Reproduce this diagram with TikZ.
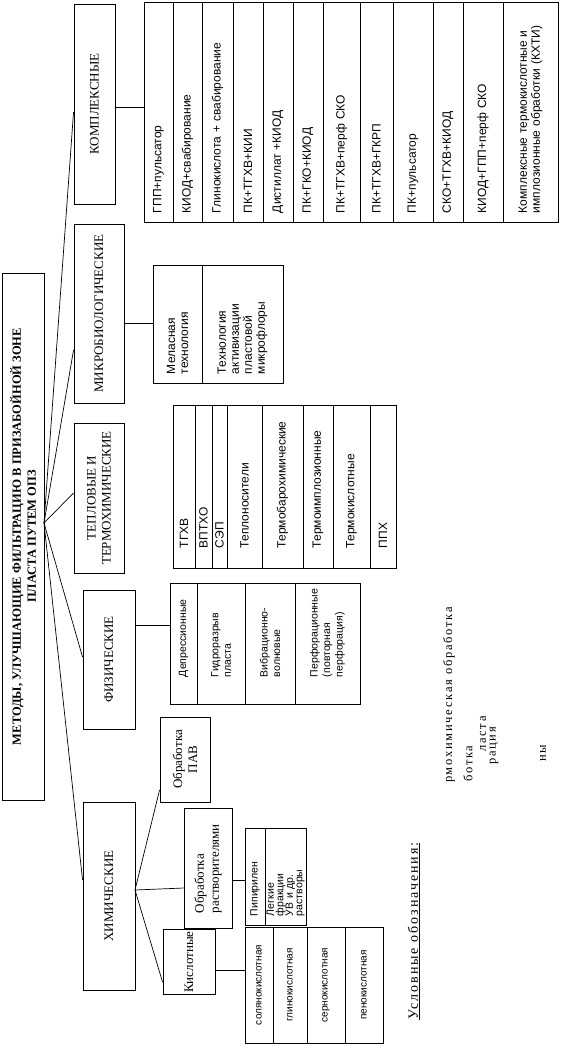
\documentclass[tikz,border=0pt]{standalone}
\usepackage{fontspec}
\setmainfont{Liberation Serif}
\setsansfont{Liberation Sans}
\newfontfamily\legfont[LetterSpace=14]{Liberation Serif}
\tikzset{
  ln/.style={line width=0.7pt},
  catbox/.style={draw, line width=0.9pt, rotate=90, inner sep=2pt, align=center, font=\fontsize{13}{15}\selectfont},
  cellbox/.style={draw, line width=0.8pt, rotate=90, inner xsep=9pt, inner ysep=1pt, align=left, font=\sffamily\fontsize{12}{13}\selectfont},
  ccell/.style={align=center, font=\sffamily\fontsize{10}{12}\selectfont},
  tcell/.style={text width=123pt},
  fcell/.style={text width=67pt, font=\sffamily\fontsize{10.5}{12.5}\selectfont},
  frag/.style={rotate=90, anchor=west, inner sep=0pt, font=\legfont\fontsize{12.5}{14}\selectfont},
}
% name, x1, x2, y1, y2, extra style, text
\newcommand\mybox[7]{%
  \pgfmathsetmacro\cx{(#2+#3)/2}\pgfmathsetmacro\cy{(#4+#5)/2}%
  \pgfmathsetmacro\cw{#3-#2}\pgfmathsetmacro\ch{#5-#4}%
  \node[catbox, minimum width=\ch pt, minimum height=\cw pt, #6] (#1) at (\cx,\cy) {#7};}
\newcommand\mycell[7]{%
  \pgfmathsetmacro\cx{(#2+#3)/2}\pgfmathsetmacro\cy{(#4+#5)/2}%
  \pgfmathsetmacro\cw{#3-#2}\pgfmathsetmacro\ch{#5-#4}\pgfmathsetmacro\tw{#5-#4-18}%
  \node[cellbox, minimum width=\ch pt, minimum height=\cw pt, text width=\tw pt, #6] (#1) at (\cx,\cy) {#7};}
\begin{document}
\begin{tikzpicture}[x=1pt,y=-1pt]
\useasboundingbox (0,0) rectangle (561,1052);
% title
\node[catbox, font=\bfseries\fontsize{12.5}{15}\selectfont, minimum width=527pt, minimum height=42pt] (title) at (23,536.5)
  {МЕТОДЫ, УЛУЧШАЮЩИЕ ФИЛЬТРАЦИЮ В ПРИЗАБОЙНОЙ ЗОНЕ\\ПЛАСТА ПУТЕМ ОПЗ};
\coordinate (fan) at (44,523);
% categories
\mybox{komp}{74}{115}{4}{204}{}{КОМПЛЕКСНЫЕ}
\mybox{micro}{74}{124}{224}{403}{}{МИКРОБИОЛОГИЧЕСКИЕ}
\mybox{tepl}{74}{124}{423}{573}{}{ТЕПЛОВЫЕ И\\ТЕРМОХИМИЧЕСКИЕ}
\mybox{fiz}{83}{135}{590}{729}{}{ФИЗИЧЕСКИЕ}
\mybox{chem}{83}{135}{802}{990}{}{ХИМИЧЕСКИЕ}
\draw[ln] (fan) -- (komp.north |- 0,112);
\draw[ln] (fan) -- (micro.north |- 0,350);
\draw[ln] (fan) -- (tepl.north |- 0,493);
\draw[ln] (fan) -- (fiz.north |- 0,657);
\draw[ln] (fan) -- (chem.north |- 0,880);
% complex table
\mycell{k1}{144}{173}{2}{222}{}{ГПП+пульсатор}
\mycell{k2}{173}{202}{2}{222}{}{КИОД+свабирование}
\mycell{k3}{202}{233}{2}{222}{}{Глинокислота + свабирование}
\mycell{k4}{233}{263}{2}{222}{}{ПК+ТГХВ+КИИ}
\mycell{k5}{263}{293}{2}{222}{}{Дистиллат +КИОД}
\mycell{k6}{293}{323}{2}{222}{}{ПК+ГКО+КИОД}
\mycell{k7}{323}{360}{2}{222}{}{ПК+ТГХВ+перф СКО}
\mycell{k8}{360}{393}{2}{222}{}{ПК+ТГХВ+ГКРП}
\mycell{k9}{393}{433}{2}{222}{}{ПК+пульсатор}
\mycell{k10}{433}{463}{2}{222}{}{СКО+ТГХВ+КИОД}
\mycell{k11}{463}{503}{2}{222}{}{КИОД+ГПП+перф СКО}
\mycell{k12}{503}{558}{2}{222}{}{Комплексные термокислотные и\\имплозионные обработки (КХТИ)}
\draw[ln] (komp.south |- 0,107) -- (k1.north |- 0,107);
% micro table
\mycell{m1}{153}{202}{265}{383}{}{Меласная\\технология}
\mycell{m2}{202}{283}{265}{383}{}{Технология\\активизации\\пластовой\\микрофлоры}
\draw[ln] (micro.south |- 0,323) -- (m1.north |- 0,323);
% thermal table
\mycell{t1}{173}{195}{405}{568}{tcell}{ТГХВ}
\mycell{t2}{195}{212}{405}{568}{tcell}{ВПТХО}
\mycell{t3}{212}{227}{405}{568}{tcell}{СЭП}
\mycell{t4}{227}{262}{405}{568}{tcell}{Теплоносители}
\mycell{t5}{262}{303}{405}{568}{tcell}{Термобарохимические}
\mycell{t6}{303}{333}{405}{568}{tcell}{Термоимплозионные}
\mycell{t7}{333}{370}{405}{568}{tcell}{Термокислотные}
\mycell{t8}{370}{396}{405}{568}{tcell}{ППХ}
% physical table
\mycell{f1}{170}{197}{583}{704}{fcell}{\mbox{Депрессионные}}
\mycell{f2}{197}{245}{583}{704}{fcell}{\mbox{Гидроразрыв}\\\mbox{пласта}}
\mycell{f3}{245}{295}{583}{704}{fcell}{\mbox{Вибрационно-}\\\mbox{волновые}}
\mycell{f4}{295}{360}{583}{704}{fcell}{\mbox{Перфорационные}\\\mbox{(повторная}\\\mbox{перфорация)}}
\draw[ln] (fiz.south |- 0,625) -- (f1.north |- 0,625);
% chemical
\coordinate (cfan) at (135,890);
\mybox{kisl}{163}{215}{932}{992}{}{Кислотные}
\mybox{rastv}{184}{232}{808}{928}{align=left, text width=90pt}{Обработка\\растворителями}
\mybox{pav}{160}{210}{717}{802}{}{Обработка\\ПАВ}
\draw[ln] (cfan) -- (kisl.north |- 0,982);
\draw[ln] (cfan) -- (rastv.north |- 0,888);
\draw[ln] (cfan) -- (pav.north |- 0,790);
\mycell{s1}{245}{273}{927}{1043}{ccell}{солянокислотная}
\mycell{s2}{273}{307}{927}{1043}{ccell}{глинокислотная}
\mycell{s3}{307}{345}{927}{1043}{ccell}{сернокислотная}
\mycell{s4}{345}{383}{927}{1043}{ccell}{пенокислотная}
\draw[ln] (kisl.south |- 0,970) -- (s1.north |- 0,970);
\mycell{r1}{245}{265}{828}{925}{font=\sffamily\fontsize{10.5}{10}\selectfont}{Пипирилен}
\mycell{r2}{265}{306}{828}{925}{font=\sffamily\fontsize{10.5}{9.5}\selectfont}{Легкие\\фракции\\УВ и др.\\растворы}
\draw[ln] (rastv.south |- 0,880) -- (r1.north |- 0,880);
% legend
\node[frag, font=\legfont\fontsize{14}{16}\selectfont] (leg) at (414,1020) {\underline{Условные обозначения:}};
\node[frag] (l1) at (449,783) {рмохимическая обработка};
\node[frag] (l2) at (468,782) {ботка};
\node[frag] (l3) at (483,752) {ласта};
\node[frag] (l4) at (494,765) {рация};
\node[frag] (l5) at (543,762) {ны};
\end{tikzpicture}
\end{document}
